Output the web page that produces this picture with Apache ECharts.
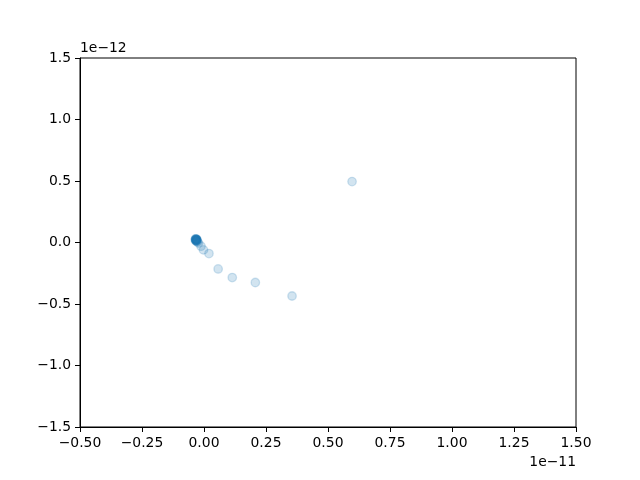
<!DOCTYPE html>
<html>
<head>
<meta charset="utf-8">
<script src="https://cdn.jsdelivr.net/npm/echarts@6/dist/echarts.min.js"></script>
<style>html,body{margin:0;padding:0;background:#fff}#c{width:640px;height:480px}</style>
</head>
<body>
<div id="c"></div>
<script>
// x values in units of 1e-11, y values in units of 1e-12
var xValues = [-0.034,-0.032,-0.030,-0.033,-0.031,-0.029,-0.035,-0.032,-0.030,-0.033,-0.031,-0.028,-0.034,-0.030,-0.026,-0.022,-0.012,-0.002,0.020,0.057,0.114,0.207,0.355,0.597];
var yValues = [0.030,0.025,0.022,0.018,0.028,0.015,0.020,0.012,0.026,0.024,0.019,0.021,0.027,0.010,0.005,-0.005,-0.030,-0.060,-0.090,-0.215,-0.285,-0.325,-0.435,0.495];
var xTicks = [-0.5,-0.25,0,0.25,0.5,0.75,1.0,1.25,1.5];
var yTicks = [-1.5,-1.0,-0.5,0,0.5,1.0,1.5];
var xOffsetText = '1e\u221211';
var yOffsetText = '1e\u221212';

var pts = xValues.map(function(x,i){return [x,yValues[i]];});
var font = 'DejaVu Sans';
function fmt(v,d){return v.toFixed(d).replace('-','\u2212');}
var chart = echarts.init(document.getElementById('c'),null,{renderer:'canvas'});
chart.setOption({
  animation:false,
  backgroundColor:'#fff',
  grid:{left:80,right:64,top:58,bottom:53,show:true,borderColor:'#000',borderWidth:1,backgroundColor:'transparent'},
  xAxis:{type:'value',min:xTicks[0],max:xTicks[xTicks.length-1],interval:0.25,
    axisLine:{show:true,onZero:false,lineStyle:{color:'#000',width:1}},
    axisTick:{show:true,length:5,lineStyle:{color:'#000'}},
    splitLine:{show:false},
    axisLabel:{color:'#000',fontFamily:font,fontSize:13.9,margin:9,formatter:function(v){return fmt(v,2);}}},
  yAxis:{type:'value',min:yTicks[0],max:yTicks[yTicks.length-1],interval:0.5,
    axisLine:{show:true,onZero:false,lineStyle:{color:'#000',width:1}},
    axisTick:{show:true,length:5,lineStyle:{color:'#000'}},
    splitLine:{show:false},
    axisLabel:{color:'#000',fontFamily:font,fontSize:13.9,margin:9,formatter:function(v){return fmt(v,1);}}},
  graphic:[
    {type:'text',left:80,top:41,style:{text:yOffsetText,font:'13.9px "DejaVu Sans"',fill:'#000'}},
    {type:'text',right:64,top:455,style:{text:xOffsetText,font:'13.9px "DejaVu Sans"',fill:'#000'}}
  ],
  series:[{type:'scatter',data:pts,symbol:'circle',symbolSize:8.5,
    itemStyle:{color:'#1f77b4',opacity:0.2,borderColor:'#1f77b4',borderWidth:1.3}}]
});
</script>
</body>
</html>
